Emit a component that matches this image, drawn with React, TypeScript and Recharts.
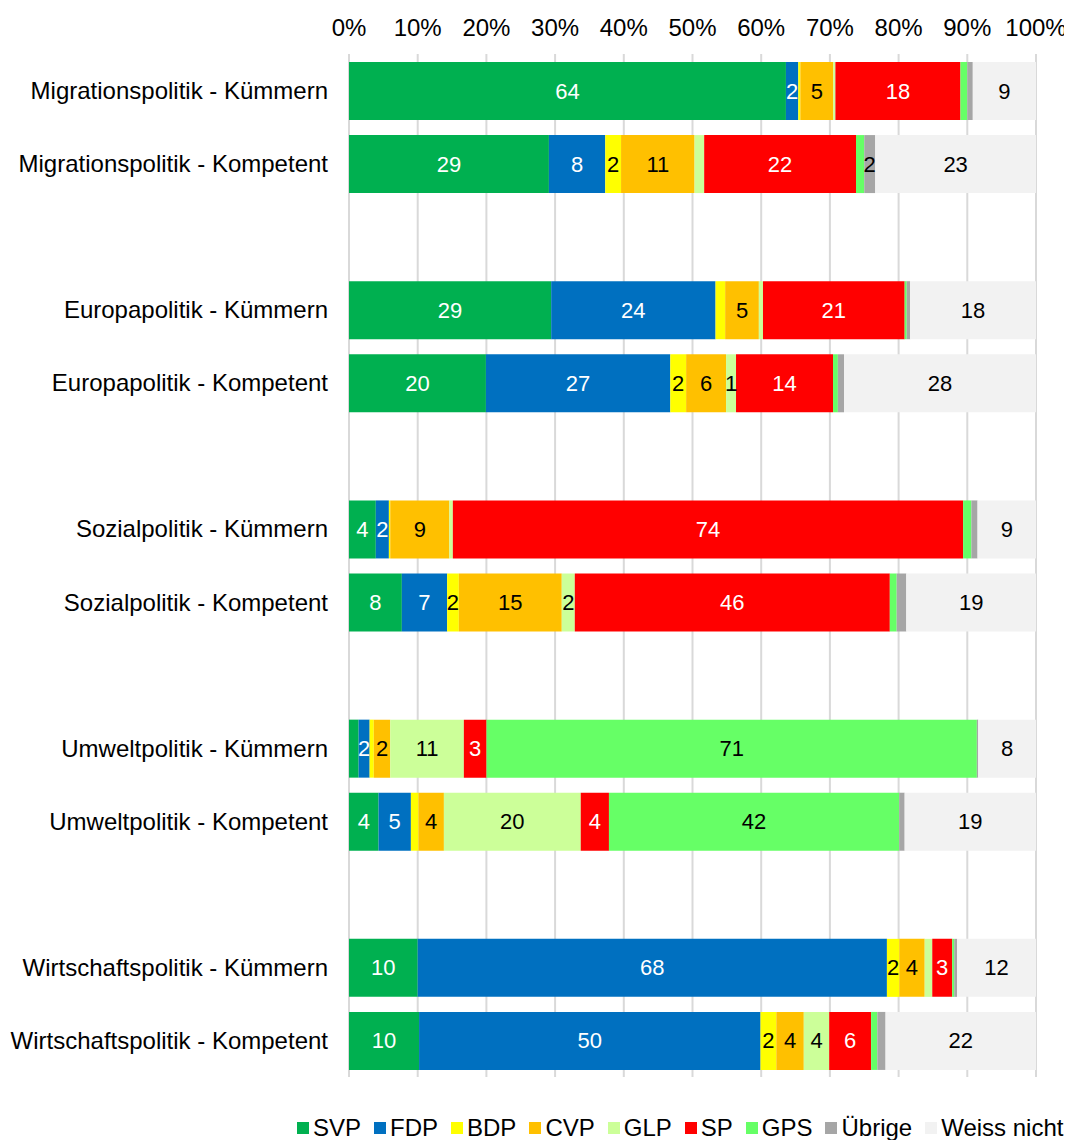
import React from "react";
import { BarChart, Bar, XAxis, YAxis, CartesianGrid, Legend, LabelList } from "recharts";

const CATEGORIES = [
  "Migrationspolitik - Kümmern",
  "Migrationspolitik - Kompetent",
  " ",
  "Europapolitik - Kümmern",
  "Europapolitik - Kompetent",
  "  ",
  "Sozialpolitik - Kümmern",
  "Sozialpolitik - Kompetent",
  "   ",
  "Umweltpolitik - Kümmern",
  "Umweltpolitik - Kompetent",
  "    ",
  "Wirtschaftspolitik - Kümmern",
  "Wirtschaftspolitik - Kompetent",
];

const SVP = [63.6, 29.1, null, 29.4, 19.9, null, 3.9, 7.7, null, 1.4, 4.3, null, 10.0, 10.2];
const FDP = [1.8, 8.2, null, 23.9, 26.8, null, 1.9, 6.6, null, 1.6, 4.7, null, 68.3, 49.7];
const BDP = [0.3, 2.3, null, 1.4, 2.3, null, 0.2, 1.7, null, 0.6, 1.1, null, 1.8, 2.3];
const CVP = [4.8, 10.7, null, 4.9, 5.8, null, 8.6, 15.0, null, 2.4, 3.7, null, 3.7, 4.0];
const GLP = [0.3, 1.4, null, 0.6, 1.45, null, 0.5, 1.9, null, 10.7, 19.9, null, 1.1, 3.7];
const SP = [18.2, 22.1, null, 20.6, 14.1, null, 74.2, 45.9, null, 3.3, 4.1, null, 2.9, 6.1];
const GPS = [1.0, 1.2, null, 0.3, 0.7, null, 1.2, 1.0, null, 71.3, 42.2, null, 0.3, 0.9];
const UEBRIGE = [0.8, 1.6, null, 0.5, 0.9, null, 0.9, 1.4, null, 0.2, 0.8, null, 0.4, 1.2];
const WEISS = [9.2, 23.4, null, 18.3, 27.9, null, 8.5, 18.9, null, 8.4, 19.1, null, 11.5, 21.9];

const X_TICKS = [0, 0.1, 0.2, 0.3, 0.4, 0.5, 0.6, 0.7, 0.8, 0.9, 1];

const SERIES = [
  { key: "SVP", values: SVP, color: "#00B050", label: "#FFFFFF" },
  { key: "FDP", values: FDP, color: "#0070C0", label: "#FFFFFF" },
  { key: "BDP", values: BDP, color: "#FFFF00", label: "#000000" },
  { key: "CVP", values: CVP, color: "#FFC000", label: "#000000" },
  { key: "GLP", values: GLP, color: "#CCFF99", label: "#000000" },
  { key: "SP", values: SP, color: "#FF0000", label: "#FFFFFF" },
  { key: "GPS", values: GPS, color: "#66FF66", label: "#000000" },
  { key: "Übrige", values: UEBRIGE, color: "#A6A6A6", label: "#000000" },
  { key: "Weiss nicht", values: WEISS, color: "#F2F2F2", label: "#000000" },
];

const LABEL_MIN = 1.45;
const FONT = "'Liberation Sans', Arial, sans-serif";

const data = CATEGORIES.map((name, i) => {
  const row: Record<string, any> = { name };
  SERIES.forEach((s) => {
    row[s.key] = s.values[i];
  });
  return row;
});

const makeLabel = (color: string) => (props: any) => {
  const { x, y, width, height, value } = props;
  if (value == null || Number(value) < LABEL_MIN) return null;
  return (
    <text
      x={Number(x) + Number(width) / 2}
      y={Number(y) + Number(height) / 2}
      fill={color}
      textAnchor="middle"
      dominantBaseline="central"
      fontSize={22}
      fontFamily={FONT}
    >
      {Math.round(Number(value))}
    </text>
  );
};

const orderOf = (name: any) => SERIES.findIndex((s) => s.key === name);

const LegendContent = (props: any) => {
  const items = [...(props.payload || [])].sort((a: any, b: any) => orderOf(a.value) - orderOf(b.value));
  return (
    <div style={{ display: "flex", alignItems: "center", whiteSpace: "nowrap", fontSize: 24, fontFamily: FONT }}>
      {items.map((it: any) => (
        <span key={it.value} style={{ display: "inline-flex", alignItems: "center", marginRight: 13 }}>
          <span style={{ display: "inline-block", width: 12, height: 12, background: it.color, marginRight: 4 }} />
          <span style={{ color: "#000" }}>{it.value}</span>
        </span>
      ))}
    </div>
  );
};

export default function App() {
  return (
    <div style={{ fontFamily: FONT, width: 1064, height: 1132 }}>
      <BarChart
        width={1064}
        height={1132}
        data={data}
        layout="vertical"
        stackOffset="expand"
        barSize={58}
        margin={{ top: 0, right: 36, left: 0, bottom: 35 }}
      >
        <CartesianGrid horizontal={false} stroke="#D9D9D9" strokeWidth={2} />
        <XAxis
          type="number"
          orientation="top"
          domain={[0, 1]}
          ticks={X_TICKS}
          height={46}
          axisLine={false}
          tickLine={false}
          tickSize={0}
          tickMargin={18}
          interval={0}
          tick={{ fontSize: 24, fill: "#000", fontFamily: FONT }}
          tickFormatter={(v: number) => `${Math.round(v * 100)}%`}
        />
        <YAxis
          type="category"
          dataKey="name"
          width={341}
          axisLine={false}
          tickLine={false}
          tickSize={0}
          tickMargin={21}
          interval={0}
          tick={{ fontSize: 24, fill: "#000", fontFamily: FONT }}
        />
        <Legend
          verticalAlign="bottom"
          content={LegendContent}
          wrapperStyle={{ top: 1106, left: 289, bottom: "auto", width: "auto", height: 28 }}
        />
        {SERIES.map((s) => (
          <Bar key={s.key} dataKey={s.key} name={s.key} stackId="a" fill={s.color} isAnimationActive={false}>
            <LabelList dataKey={s.key} content={makeLabel(s.label)} />
          </Bar>
        ))}
      </BarChart>
    </div>
  );
}
